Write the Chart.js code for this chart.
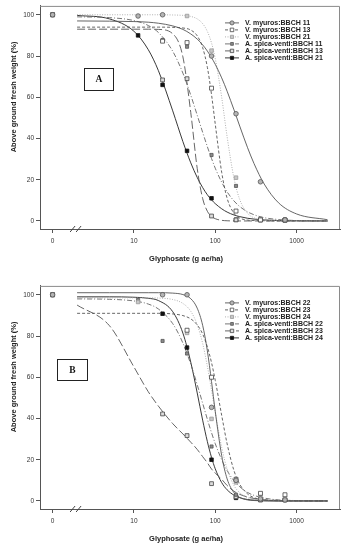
<!DOCTYPE html>
<html>
<head>
<meta charset="utf-8">
<script src="https://cdn.jsdelivr.net/npm/chart.js@4.4.0/dist/chart.umd.min.js"></script>
<style>
  html, body { margin: 0; padding: 0; background: #fff; }
  #wrap { position: relative; width: 345px; height: 550px; }
  canvas { position: absolute; left: 0; }
  #chartA { top: 0; }
  #chartB { top: 280px; }
</style>
</head>
<body>
<div id="wrap">
  <canvas id="chartA" width="345" height="270"></canvas>
  <canvas id="chartB" width="345" height="270"></canvas>
</div>
<script>
var fitDoses = [2, 5, 10, 15, 20, 30, 40, 50, 60, 70, 80, 90, 100, 120, 140, 170, 200, 250, 300, 400, 600, 1000, 2400];
// doses of the measured points; 1 stands for the untreated control shown at "0"
var pointDoses = [1, 11.25, 22.5, 45, 90, 180, 360, 720];

var namesA = ['V. myuros:BBCH 11', 'V. myuros:BBCH 13', 'V. myuros:BBCH 21',
    'A. spica-venti:BBCH 11', 'A. spica-venti:BBCH 13', 'A. spica-venti:BBCH 21'];
var namesB = ['V. myuros:BBCH 22', 'V. myuros:BBCH 23', 'V. myuros:BBCH 24',
    'A. spica-venti:BBCH 22', 'A. spica-venti:BBCH 23', 'A. spica-venti:BBCH 24'];

// panel A, fitted curves
var vm11FitA = [97, 96.9, 96.7, 96.4, 95.9, 94.6, 92.9, 90.7, 88.2, 85.4, 82.4, 79.2, 76, 69.4, 62.9, 53.9, 46, 35.5, 27.8, 17.9, 8.8, 3.4, 0.6];
var vm13FitA = [94, 94, 94, 94, 94, 93.9, 93.6, 92.6, 89.8, 84.1, 74.5, 61.3, 47, 23.6, 11, 3.7, 1.4, 0.4, 0.2, 0.1, 0, 0, 0];
var vm21FitA = [100, 100, 100, 100, 100, 99.9, 99.7, 99.2, 98, 95.7, 91.9, 86.3, 78.8, 60, 40.8, 20.7, 10.4, 3.7, 1.5, 0.4, 0.1, 0, 0];
var as11FitA = [99, 98.6, 97.2, 94.8, 91.4, 82.3, 71.7, 61, 51.3, 43, 36, 30.3, 25.6, 18.8, 14.1, 9.7, 7, 4.4, 3, 1.6, 0.7, 0.2, 0];
var as13FitA = [93, 93, 93, 93, 92.9, 90.8, 79.6, 52.6, 25.5, 10.9, 4.7, 2.2, 1.1, 0.3, 0.1, 0, 0, 0, 0, 0, 0, 0, 0];
var as21FitA = [99.7, 98, 92, 83.1, 72.9, 53.4, 38.5, 28.2, 21.1, 16.2, 12.7, 10.2, 8.4, 5.9, 4.3, 2.9, 2.1, 1.3, 0.9, 0.5, 0.2, 0.1, 0];

// panel A, measured points (null = no point at that dose)
var vm11A = [100, 99.4, 100, null, 80, 52, 19, 0.5];
var vm13A = [100, null, 87.2, 86.5, 64.4, 4.8, 0.5, 0.3];
var vm21A = [100, null, null, 99.4, 82.6, 21, 0.8, 0.5];
var as11A = [100, null, 87.8, 84.5, 32, 17, 1, 0.5];
var as13A = [100, null, 68.4, 69, 2.4, 0.5, 0.5, 0.5];
var as21A = [100, 90, 66, 34, 11, 0.6, 0.5, 0.5];

// panel B, fitted curves
var vm22FitB = [101, 101, 101, 101, 101, 100.8, 100.1, 98.1, 93.5, 85.2, 72.8, 57.9, 43.5, 22, 10.7, 4, 1.7, 0.5, 0.2, 0.1, 0, 0, 0];
var vm23FitB = [91, 91, 91, 91, 91, 90.7, 89.9, 88.3, 85.4, 81, 74.7, 67.1, 58.5, 41.5, 27.7, 14.7, 8.1, 3.4, 1.6, 0.5, 0.1, 0, 0];
var vm24FitB = [98.5, 98.5, 98.5, 98.5, 98.4, 97.7, 95.8, 92, 85.5, 76.4, 65.3, 53.7, 42.9, 26, 15.5, 7.5, 4, 1.6, 0.7, 0.2, 0, 0, 0];
var as22FitB = [98, 97.8, 97, 95.5, 93.1, 86, 76.6, 66.3, 56.4, 47.4, 39.6, 33.1, 27.8, 20, 14.7, 9.8, 6.9, 4.1, 2.7, 1.4, 0.5, 0.2, 0];
var as23FitB = [95, 85, 65, 53, 46, 37.5, 32.5, 28.5, 25, 21.5, 18.5, 15.5, 13.5, 10.5, 7.5, 4.7, 3.2, 1.9, 1.2, 0.6, 0.3, 0.1, 0];
var as24FitB = [99, 99, 98.8, 98.3, 97.2, 91.8, 81.4, 67.3, 52.4, 39.2, 28.8, 21.1, 15.6, 8.9, 5.4, 2.8, 1.6, 0.7, 0.4, 0.1, 0, 0, 0];

// panel B, measured points
var vm22B = [100, null, 100, 100, 45.4, 10, 1, 0.5];
var vm23B = [100, null, null, 82.8, 60, 10.5, 3.7, 3];
var vm24B = [100, 96.5, null, 81.5, 39.8, 9, 2, 1.5];
var as22B = [100, 97.5, 77.6, 71.5, 26.4, 3, 1, 1];
var as23B = [100, null, 42.2, 31.7, 8.4, 2, 0.5, 0.5];
var as24B = [100, null, 90.8, 74.4, 20, 1.5, 0.5, 0.5];

var xTicks = [1, 10, 100, 1000];
var yTicks = [0, 20, 40, 60, 80, 100];

// line + marker look of the six series (same order in both panels)
var seriesStyles = [
    { color: '#555', dash: [], pointStyle: 'circle', radius: 2.3, fill: '#b5b5b5', border: '#555' },
    { color: '#555', dash: [3, 2], pointStyle: 'rect', radius: 2.8, fill: '#fff', border: '#444' },
    { color: '#a8a8a8', dash: [1, 1.5], pointStyle: 'rect', radius: 2.5, fill: '#c8c8c8', border: '#999' },
    { color: '#666', dash: [5, 2, 1, 2], pointStyle: 'rect', radius: 2.2, fill: '#8a8a8a', border: '#555' },
    { color: '#555', dash: [8, 3], pointStyle: 'rect', radius: 2.7, fill: '#ddd', border: '#444' },
    { color: '#222', dash: [], pointStyle: 'rect', radius: 2.5, fill: '#111', border: '#111' }
];

var tickFont = { family: 'Liberation Sans, Arial, sans-serif', size: 6.5 };

function toXY(xs, ys) {
    var out = [];
    for (var i = 0; i < xs.length; i++)
        if (ys[i] !== null) out.push({ x: xs[i], y: ys[i] });
    return out;
}

/**
 * Draws the frame, axis break, panel letter, legend and axis titles
 */
var decorPlugin = {
    id: 'decor',
    afterDraw: function (chart, args, opts) {
        var ctx = chart.ctx;
        var area = chart.chartArea;
        var xScale = chart.scales.x;
        ctx.save();

        // top and right side of the frame
        ctx.strokeStyle = '#8a8a8a';
        ctx.lineWidth = 1;
        ctx.setLineDash([]);
        ctx.beginPath();
        ctx.moveTo(area.left, area.top + 0.5);
        ctx.lineTo(area.right - 0.5, area.top + 0.5);
        ctx.lineTo(area.right - 0.5, area.bottom);
        ctx.stroke();

        // axis break between the control and the dose range
        var bx = xScale.getPixelForValue(2);
        ctx.strokeStyle = '#444';
        ctx.beginPath();
        ctx.moveTo(bx - 7, area.bottom + 3);
        ctx.lineTo(bx - 2, area.bottom - 3);
        ctx.moveTo(bx - 1, area.bottom + 3);
        ctx.lineTo(bx + 4, area.bottom - 3);
        ctx.stroke();

        // panel letter box
        var b = opts.box;
        ctx.fillStyle = '#fff';
        ctx.fillRect(b[0], b[1], b[2], b[3]);
        ctx.strokeStyle = '#222';
        ctx.strokeRect(b[0] + 0.5, b[1] + 0.5, b[2], b[3]);
        ctx.fillStyle = '#111';
        ctx.font = 'bold 9.5px "Liberation Serif", "Times New Roman", serif';
        ctx.textAlign = 'center';
        ctx.textBaseline = 'middle';
        ctx.fillText(opts.letter, b[0] + b[2] / 2 + 0.5, b[1] + b[3] / 2 + 1);

        // legend
        ctx.font = 'bold 7px "Liberation Sans", Arial, sans-serif';
        ctx.textAlign = 'left';
        for (var i = 0; i < opts.names.length; i++) {
            var s = seriesStyles[i];
            var y = area.top + 17 + i * 7;
            ctx.strokeStyle = s.color;
            ctx.lineWidth = 0.9;
            ctx.setLineDash(s.dash);
            ctx.beginPath();
            ctx.moveTo(225, y);
            ctx.lineTo(239, y);
            ctx.stroke();
            ctx.setLineDash([]);
            ctx.fillStyle = s.fill;
            ctx.strokeStyle = s.border;
            ctx.lineWidth = 0.8;
            Chart.helpers.drawPoint(ctx, { pointStyle: s.pointStyle, radius: s.radius * 0.9, rotation: 0, borderWidth: 0.8 }, 232, y);
            ctx.fillStyle = '#222';
            ctx.fillText(opts.names[i], 245, y + 0.5);
        }

        // axis titles
        ctx.fillStyle = '#222';
        ctx.font = 'bold 7.5px "Liberation Sans", Arial, sans-serif';
        ctx.textAlign = 'center';
        ctx.fillText('Glyphosate (g ae/ha)', 186, 259);
        ctx.translate(14, area.top + 91);
        ctx.rotate(-Math.PI / 2);
        ctx.fillText('Above ground fresh weight (%)', 0, 0);

        ctx.restore();
    }
};

/**
 * Creates one panel: fitted curves plus measured points
 */
function createPanel(canvasId, letter, box, names, fits, points) {
    var datasets = [];
    for (var i = 0; i < names.length; i++) {
        var s = seriesStyles[i];
        datasets.push({
            label: names[i] + ' fit',
            data: toXY(fitDoses, fits[i]),
            borderColor: s.color,
            borderWidth: 0.9,
            borderDash: s.dash,
            pointRadius: 0,
            cubicInterpolationMode: 'monotone',
            fill: false,
            order: 1
        });
    }
    for (var j = 0; j < names.length; j++) {
        var st = seriesStyles[j];
        datasets.push({
            label: names[j],
            data: toXY(pointDoses, points[j]),
            showLine: false,
            pointStyle: st.pointStyle,
            pointRadius: st.radius,
            pointBackgroundColor: st.fill,
            pointBorderColor: st.border,
            pointBorderWidth: 0.8,
            order: 0
        });
    }

    return new Chart(document.getElementById(canvasId), {
        type: 'line',
        data: { datasets: datasets },
        options: {
            responsive: false,
            animation: false,
            devicePixelRatio: 1,
            layout: { padding: { top: 5, right: 5, left: 0, bottom: 0 } },
            plugins: {
                legend: { display: false },
                tooltip: { enabled: false },
                decor: { letter: letter, box: box, names: names }
            },
            scales: {
                x: {
                    type: 'logarithmic',
                    min: 0.727,
                    max: 3420,
                    afterBuildTicks: function (scale) {
                        scale.ticks = xTicks.map(v => ({ value: v }));
                    },
                    afterFit: function (scale) { scale.height = 41; },
                    ticks: {
                        autoSkip: false,
                        maxRotation: 0,
                        padding: 4,
                        color: '#333',
                        font: tickFont,
                        callback: function (value) { return value === 1 ? '0' : String(value); }
                    },
                    grid: { drawOnChartArea: false, drawTicks: true, tickLength: 4, color: '#555' },
                    border: { display: true, color: '#555', width: 1 }
                },
                y: {
                    type: 'linear',
                    min: -3.9,
                    max: 104.3,
                    afterBuildTicks: function (scale) {
                        scale.ticks = yTicks.map(v => ({ value: v }));
                    },
                    afterFit: function (scale) { scale.width = 40; },
                    ticks: { padding: 2, color: '#333', font: tickFont },
                    grid: { drawOnChartArea: false, drawTicks: true, tickLength: 4, color: '#555' },
                    border: { display: true, color: '#555', width: 1 }
                }
            }
        },
        plugins: [decorPlugin]
    });
}

document.addEventListener("DOMContentLoaded", event => {
    createPanel('chartA', 'A', [84, 68, 29, 22], namesA,
        [vm11FitA, vm13FitA, vm21FitA, as11FitA, as13FitA, as21FitA],
        [vm11A, vm13A, vm21A, as11A, as13A, as21A]);
    createPanel('chartB', 'B', [57, 79, 30, 21], namesB,
        [vm22FitB, vm23FitB, vm24FitB, as22FitB, as23FitB, as24FitB],
        [vm22B, vm23B, vm24B, as22B, as23B, as24B]);
});
</script>
</body>
</html>
